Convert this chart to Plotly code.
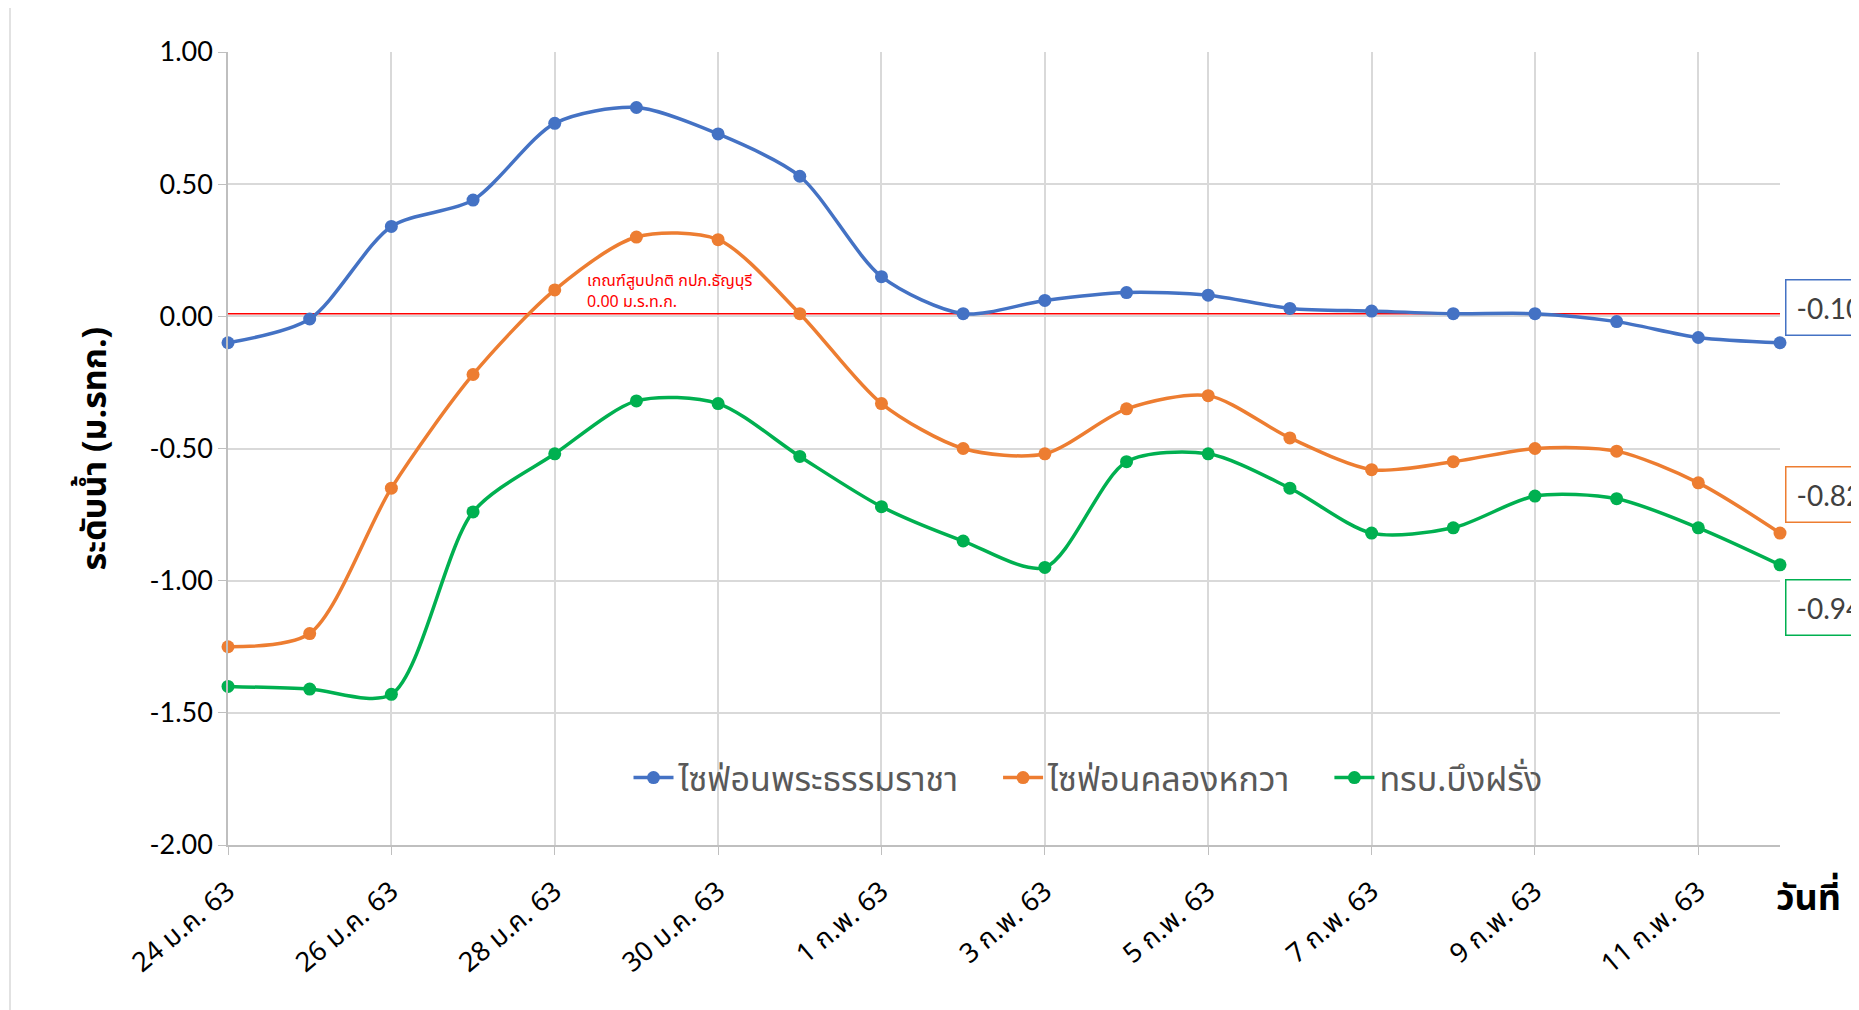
import plotly.graph_objects as go

dates = ["24 ม.ค. 63", "25 ม.ค. 63", "26 ม.ค. 63", "27 ม.ค. 63", "28 ม.ค. 63",
         "29 ม.ค. 63", "30 ม.ค. 63", "31 ม.ค. 63", "1 ก.พ. 63", "2 ก.พ. 63",
         "3 ก.พ. 63", "4 ก.พ. 63", "5 ก.พ. 63", "6 ก.พ. 63", "7 ก.พ. 63",
         "8 ก.พ. 63", "9 ก.พ. 63", "10 ก.พ. 63", "11 ก.พ. 63", "12 ก.พ. 63"]

phra_thamma_racha = [-0.10, -0.01, 0.34, 0.44, 0.73, 0.79, 0.69, 0.53, 0.15, 0.01,
                     0.06, 0.09, 0.08, 0.03, 0.02, 0.01, 0.01, -0.02, -0.08, -0.10]
khlong_hok_wa = [-1.25, -1.20, -0.65, -0.22, 0.10, 0.30, 0.29, 0.01, -0.33, -0.50,
                 -0.52, -0.35, -0.30, -0.46, -0.58, -0.55, -0.50, -0.51, -0.63, -0.82]
bueng_fang = [-1.40, -1.41, -1.43, -0.74, -0.52, -0.32, -0.33, -0.53, -0.72, -0.85,
              -0.95, -0.55, -0.52, -0.65, -0.82, -0.80, -0.68, -0.69, -0.80, -0.94]

y_ticks = [1.0, 0.5, 0.0, -0.5, -1.0, -1.5, -2.0]
y_tick_labels = ["1.00", "0.50", "0.00", "-0.50", "-1.00", "-1.50", "-2.00"]

series_names = ["ไซฟ่อนพระธรรมราชา", "ไซฟ่อนคลองหกวา", "ทรบ.บึงฝรั่ง"]
series_colors = ["#4472C4", "#ED7D31", "#00B050"]
threshold_level = 0.01
threshold_text = "เกณฑ์สูบปกติ กปภ.ธัญบุรี<br>0.00 ม.ร.ท.ก."
y_title = "ระดับน้ำ (ม.รทก.)"
x_title = "วันที่"

OFF = 8  # page body margin
W, H = 1859 - OFF, 1010 - OFF
L, R, T, B = 228 - OFF, 1780 - OFF, 52 - OFF, 845 - OFF
pw, ph = R - L, B - T


def px(x):
    return (x - OFF - L) / pw


def py(y):
    return (B - (y - OFF)) / ph


THAI = "Noto Sans Thai, Tahoma, Noto Sans, sans-serif"
NUM = "Lato, Noto Sans, sans-serif"

idx = list(range(len(dates)))
fig = go.Figure()

# threshold line
fig.add_trace(go.Scatter(x=[idx[0], idx[-1]], y=[threshold_level, threshold_level],
                         mode="lines", line=dict(color="#FF0000", width=1.5),
                         showlegend=False, hoverinfo="skip"))

all_series = [phra_thamma_racha, khlong_hok_wa, bueng_fang]
pad = "\u2003"
for i, (name, vals, col) in enumerate(zip(series_names, all_series, series_colors)):
    fig.add_trace(go.Scatter(x=idx, y=vals, name=name + (pad if i < 2 else ""),
                             mode="lines+markers",
                             line=dict(color=col, width=3.5, shape="spline", smoothing=0.8),
                             marker=dict(size=13, color=col),
                             cliponaxis=False))

# end labels
shifts = [35, 39, -43]
for vals, col, sh in zip(all_series, series_colors, shifts):
    fig.add_annotation(x=idx[-1], y=vals[-1], text=f"{vals[-1]:.2f}", showarrow=False,
                       xanchor="left", yanchor="middle", xshift=5, yshift=sh,
                       font=dict(family=NUM, size=28, color="#404040"),
                       bordercolor=col, borderwidth=1.5, borderpad=10, bgcolor="white")

fig.add_annotation(x=px(585), y=py(291), xref="paper", yref="paper", text=threshold_text,
                   showarrow=False, xanchor="left", yanchor="middle", align="left",
                   font=dict(family=THAI, size=16, color="#FF0000"))

fig.add_annotation(x=px(95), y=0.5, xref="paper", yref="paper", text=f"<b>{y_title}</b>",
                   textangle=-90, showarrow=False, xanchor="center", yanchor="middle",
                   font=dict(family=THAI, size=34, color="#000000"))

fig.add_annotation(x=px(1808), y=py(899), xref="paper", yref="paper", text=f"<b>{x_title}</b>",
                   showarrow=False, xanchor="center", yanchor="middle",
                   font=dict(family=THAI, size=36, color="#000000"))

# outer chart frame
fig.add_shape(type="rect", xref="paper", yref="paper", x0=px(10), x1=px(1950),
              y0=py(1100), y1=py(6), line=dict(color="#D9D9D9", width=1.5), layer="below")

fig.update_layout(
    width=W, height=H,
    margin=dict(l=L, r=W - R, t=T, b=H - B),
    paper_bgcolor="white", plot_bgcolor="white",
    legend=dict(orientation="h", x=px(1088), y=py(778), xanchor="center", yanchor="middle",
                font=dict(family=THAI, size=34, color="#595959"), bgcolor="rgba(0,0,0,0)",
                itemwidth=40, tracegroupgap=0),
    xaxis=dict(range=[idx[0], idx[-1]], tickvals=idx[::2], ticktext=dates[::2],
               tickangle=-40, showgrid=True, gridcolor="#D9D9D9", gridwidth=1.5,
               showline=True, linecolor="#BFBFBF", linewidth=1.5,
               ticks="outside", ticklen=8, tickcolor="#BFBFBF", ticklabelstandoff=10,
               tickfont=dict(family=THAI, size=27, color="#000000"), zeroline=False),
    yaxis=dict(range=[-2, 1], tickvals=y_ticks, ticktext=y_tick_labels, showgrid=True,
               gridcolor="#D9D9D9", gridwidth=1.5, showline=True, linecolor="#BFBFBF",
               linewidth=1.5, ticks="outside", ticklen=8, tickcolor="#BFBFBF",
               tickfont=dict(family=NUM, size=27, color="#000000"), zeroline=False),
    showlegend=True,
)

fig.write_html("out.html")
